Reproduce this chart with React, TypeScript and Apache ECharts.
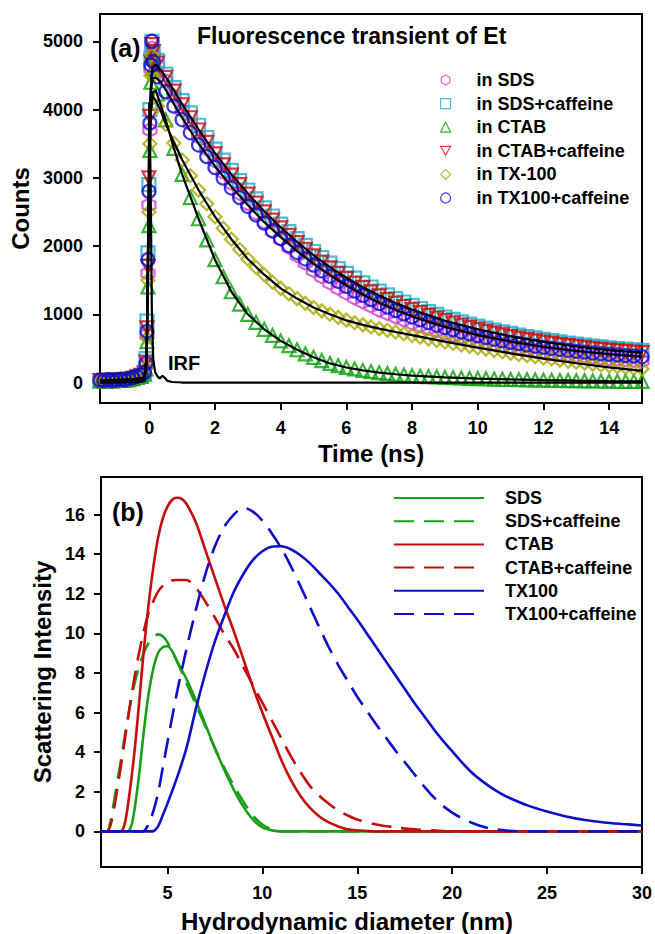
import React, { useEffect, useRef } from "react";
import * as echarts from "echarts";

// ---------- Panel (a): fluorescence transients ----------
const decayTimes = [
  -1.5, -1.375, -1.25, -1.125, -1, -0.875, -0.75, -0.625, -0.5, -0.375, -0.25, -0.15,
  -0.1, -0.07, -0.04, -0.01, 0.02, 0.05, 0.08, 0.12,
  0.25, 0.5, 0.75, 1, 1.25, 1.5, 1.75, 2, 2.25, 2.5, 2.75, 3, 3.25, 3.5, 3.75, 4,
  4.25, 4.5, 4.75, 5, 5.25, 5.5, 5.75, 6, 6.25, 6.5, 6.75, 7, 7.25, 7.5, 7.75, 8,
  8.25, 8.5, 8.75, 9, 9.25, 9.5, 9.75, 10, 10.25, 10.5, 10.75, 11, 11.25, 11.5, 11.75, 12,
  12.25, 12.5, 12.75, 13, 13.25, 13.5, 13.75, 14, 14.25, 14.5, 14.75, 15,
];

const countsSDS = [
  25, 30, 20, 35, 30, 40, 35, 50, 65, 85, 100, 140,
  250, 700, 1600, 2600, 3700, 4600, 4900, 4800,
  4650, 4420, 4200, 3990, 3790, 3600, 3420, 3250, 3080, 2920, 2770, 2620, 2480, 2350, 2220, 2100,
  1980, 1860, 1750, 1640, 1550, 1460, 1380, 1310, 1240, 1180, 1120, 1060, 1010, 960, 915, 870,
  830, 792, 757, 724, 693, 664, 636, 610, 585, 562, 540, 519, 499, 480, 463, 447,
  432, 418, 404, 392, 380, 369, 359, 349, 340, 332, 324, 317,
];
const countsSDSCaf = [
  30, 20, 35, 25, 40, 30, 45, 40, 60, 90, 95, 150,
  350, 900, 1900, 2900, 4000, 4750, 5000, 4850,
  4720, 4520, 4320, 4130, 3950, 3770, 3590, 3420, 3260, 3110, 2960, 2820, 2690, 2560, 2440, 2320,
  2210, 2110, 2010, 1920, 1830, 1750, 1670, 1600, 1530, 1460, 1400, 1340, 1285, 1230, 1180, 1130,
  1085, 1040, 1000, 960, 925, 890, 857, 826, 797, 770, 744, 719, 696, 674, 653, 633,
  614, 596, 579, 563, 548, 534, 521, 509, 498, 488, 479, 470,
];
const countsCTAB = [
  20, 25, 30, 20, 30, 35, 30, 45, 55, 75, 90, 120,
  200, 600, 1400, 2300, 3400, 4400, 4800, 4600,
  4230, 3850, 3430, 3050, 2710, 2400, 2090, 1800, 1550, 1330, 1150, 1000, 880, 780, 690, 610,
  540, 480, 420, 370, 322, 280, 248, 220, 198, 178, 160, 145, 133, 121, 110, 100,
  93, 87, 81, 75, 71, 66, 62, 58, 55, 51, 48, 45, 43, 40, 38, 35,
  33, 31, 29, 27, 25, 23, 22, 20, 19, 18, 17, 16,
];
const countsCTABCaf = [
  30, 35, 25, 30, 35, 40, 40, 50, 60, 80, 105, 135,
  300, 800, 1700, 3000, 3900, 4700, 4950, 4850,
  4680, 4470, 4270, 4070, 3880, 3700, 3520, 3350, 3190, 3040, 2900, 2760, 2630, 2500, 2380, 2265,
  2155, 2050, 1950, 1855, 1765, 1680, 1600, 1525, 1455, 1390, 1328, 1270, 1215, 1163, 1114, 1068,
  1024, 983, 944, 907, 872, 839, 808, 778, 750, 723, 698, 674, 651, 630, 610, 591,
  573, 556, 540, 525, 511, 498, 486, 475, 465, 455, 446, 438,
];
const countsTX100 = [
  20, 30, 25, 30, 25, 35, 40, 40, 55, 80, 90, 125,
  220, 650, 1500, 2500, 3500, 4500, 4800, 4500,
  4050, 3780, 3510, 3260, 3030, 2820, 2620, 2430, 2260, 2100, 1950, 1810, 1690, 1580, 1470, 1380,
  1300, 1230, 1160, 1100, 1050, 1000, 955, 915, 875, 845, 815, 790, 765, 740, 715, 690,
  665, 640, 617, 595, 573, 551, 530, 510, 490, 470, 450, 430, 412, 394, 377, 360,
  344, 328, 313, 298, 284, 270, 257, 245, 233, 221, 210, 200,
];
const countsTX100Caf = [
  35, 30, 40, 30, 35, 45, 40, 55, 70, 90, 110, 145,
  280, 750, 1800, 2800, 3800, 4650, 5000, 4700,
  4480, 4260, 4050, 3850, 3660, 3480, 3310, 3150, 2995, 2850, 2710, 2580, 2455, 2335, 2220, 2110,
  2005, 1905, 1810, 1720, 1635, 1555, 1480, 1408, 1340, 1276, 1215, 1158, 1104, 1053, 1005, 960,
  918, 878, 840, 805, 772, 741, 712, 684, 658, 634, 611, 589, 569, 550, 532, 515,
  499, 484, 470, 457, 445, 433, 422, 412, 403, 394, 386, 378,
];

const fitTimes = [
  -1.5, -0.5, -0.15, -0.08, -0.02, 0.04, 0.1, 0.2, 0.35, 0.5, 0.75, 1, 1.5, 2, 2.5, 3, 3.5,
  4, 4.5, 5, 5.5, 6, 6.5, 7, 7.5, 8, 9, 10, 11, 12, 13, 14, 15,
];
const fitUpper = [
  30, 45, 70, 400, 2600, 4300, 4620, 4660, 4580, 4480, 4280, 4080, 3710, 3360, 3050, 2770, 2510,
  2275, 2060, 1865, 1690, 1535, 1395, 1275, 1165, 1070, 905, 780, 677, 595, 528, 476, 438,
];
const fitLower = [
  30, 45, 70, 380, 2500, 4200, 4460, 4470, 4400, 4290, 4080, 3880, 3500, 3170, 2870, 2600, 2350,
  2130, 1925, 1740, 1575, 1425, 1290, 1170, 1065, 970, 815, 695, 600, 522, 462, 415, 380,
];
const fitTX100 = [
  30, 45, 70, 330, 2200, 3950, 4200, 4130, 3980, 3790, 3520, 3265, 2820, 2430, 2100, 1810, 1580,
  1380, 1230, 1100, 1000, 910, 845, 790, 740, 695, 600, 510, 428, 350, 282, 222, 172,
];
const fitCTAB = [
  25, 40, 60, 320, 2150, 3900, 4250, 4280, 4060, 3850, 3430, 3050, 2400, 1800, 1330, 1000, 780,
  610, 480, 370, 280, 220, 178, 145, 121, 100, 75, 58, 45, 35, 27, 20, 16,
];
const irfTimes = [-1.5, -0.4, -0.15, -0.08, -0.04, 0, 0.04, 0.08, 0.12, 0.18, 0.25, 0.32, 0.4, 0.47, 0.55, 0.7, 1.0, 15];
const irfCounts = [0, 5, 20, 300, 2000, 4100, 3000, 1000, 350, 150, 90, 60, 100, 70, 25, 8, 0, 0];

const timeTicks = [0, 2, 4, 6, 8, 10, 12, 14];
const countTicks = [0, 1000, 2000, 3000, 4000, 5000];

// ---------- Panel (b): DLS size distributions ----------
const sdsD = [1.5, 2.9, 3.1, 3.25, 3.5, 3.75, 4.0, 4.25, 4.5, 4.75, 5.0, 5.25, 5.5, 6.0, 6.5, 7.0, 7.5, 8.0, 8.5, 9.0, 9.5, 10, 10.5, 11, 30];
const sdsI = [0, 0, 0.3, 1.0, 2.8, 5.0, 6.9, 8.2, 9.0, 9.3, 9.35, 9.1, 8.6, 7.7, 6.6, 5.4, 4.2, 3.1, 2.1, 1.25, 0.6, 0.2, 0.05, 0, 0];

const sdsCafD = [1.5, 1.8, 2.0, 2.25, 2.5, 2.75, 3.0, 3.25, 3.5, 3.75, 4.0, 4.25, 4.5, 4.75, 5.0, 5.5, 6.0, 6.5, 7.0, 7.5, 8.0, 8.5, 9.0, 9.5, 10, 10.5, 11, 30];
const sdsCafI = [0, 0, 0.5, 1.9, 3.3, 4.8, 6.2, 7.4, 8.3, 9.0, 9.5, 9.8, 9.95, 9.85, 9.55, 8.6, 7.5, 6.4, 5.3, 4.2, 3.2, 2.3, 1.5, 0.8, 0.35, 0.1, 0, 0];

const ctabD = [1.5, 2.5, 2.65, 2.8, 3.0, 3.25, 3.5, 3.75, 4.0, 4.25, 4.5, 4.75, 5.0, 5.25, 5.5, 5.75, 6.0, 6.5, 7.0, 7.5, 8.0, 8.5, 9.0, 9.5, 10, 10.5, 11, 11.5, 12, 12.5, 13, 13.5, 14, 14.5, 15, 16, 30];
const ctabI = [0, 0, 0.1, 0.6, 1.9, 3.9, 6.4, 9.1, 11.4, 13.3, 14.8, 15.8, 16.4, 16.75, 16.85, 16.8, 16.55, 15.6, 14.2, 12.8, 11.4, 10.1, 8.7, 7.3, 6.0, 4.8, 3.6, 2.6, 1.8, 1.2, 0.75, 0.45, 0.25, 0.1, 0.05, 0, 0];

const ctabCafD = [1.5, 1.8, 2.0, 2.25, 2.5, 2.75, 3.0, 3.25, 3.5, 3.75, 4.0, 4.5, 5.0, 5.5, 6.0, 6.5, 7.0, 7.5, 8.0, 8.5, 9.0, 9.5, 10, 10.5, 11, 11.5, 12, 12.5, 13, 13.5, 14, 14.5, 15, 16, 17, 18, 19, 20, 30];
const ctabCafI = [0, 0, 0.3, 1.5, 3.0, 4.6, 6.2, 7.7, 9.0, 10.1, 11.0, 12.1, 12.6, 12.7, 12.7, 12.3, 11.6, 10.8, 9.95, 9.2, 8.3, 7.4, 6.5, 5.6, 4.7, 3.8, 3.0, 2.3, 1.8, 1.4, 1.05, 0.8, 0.6, 0.35, 0.2, 0.1, 0.05, 0, 0];

const tx100D = [1.5, 4.2, 4.5, 4.75, 5.0, 5.5, 6.0, 6.5, 7.0, 7.5, 8.0, 8.5, 9.0, 9.5, 10, 10.5, 11, 11.5, 12, 12.5, 13, 13.5, 14, 14.5, 15, 15.5, 16, 16.5, 17, 17.5, 18, 18.5, 19, 19.5, 20, 20.5, 21, 21.5, 22, 22.5, 23, 24, 25, 26, 27, 28, 29, 30];
const tx100I = [0, 0, 0.25, 0.8, 1.4, 2.7, 4.2, 6.2, 8.0, 9.6, 10.9, 12.1, 13.0, 13.7, 14.15, 14.38, 14.4, 14.25, 13.95, 13.55, 13.05, 12.55, 12.0, 11.35, 10.7, 10.0, 9.3, 8.6, 7.9, 7.2, 6.5, 5.85, 5.2, 4.6, 4.05, 3.5, 3.0, 2.6, 2.25, 1.95, 1.7, 1.3, 1.0, 0.75, 0.57, 0.45, 0.37, 0.3];

const tx100CafD = [1.5, 3.7, 4.0, 4.25, 4.5, 4.75, 5.0, 5.5, 6.0, 6.5, 7.0, 7.5, 8.0, 8.5, 9.0, 9.5, 10, 10.5, 11, 11.5, 12, 12.5, 13, 13.5, 14, 14.5, 15, 15.5, 16, 16.5, 17, 17.5, 18, 18.5, 19, 19.5, 20, 20.5, 21, 21.5, 22, 23, 24, 30];
const tx100CafI = [0, 0, 0.35, 1.0, 1.9, 3.2, 4.5, 7.0, 9.2, 11.2, 13.0, 14.4, 15.4, 16.0, 16.35, 16.15, 15.7, 15.05, 14.3, 13.4, 12.4, 11.35, 10.3, 9.3, 8.4, 7.6, 6.8, 6.1, 5.4, 4.75, 4.1, 3.5, 2.9, 2.3, 1.75, 1.3, 0.95, 0.67, 0.45, 0.27, 0.15, 0.03, 0, 0];

const diamTicks = [5, 10, 15, 20, 25, 30];
const intensityTicks = [0, 2, 4, 6, 8, 10, 12, 14, 16];

// ---------- styling ----------
const FONT = '"Liberation Sans", Arial, Helvetica, sans-serif';
const HEX = "path://M0,-10L8.66,-5L8.66,5L0,10L-8.66,5L-8.66,-5Z";
const DOWN_TRI = "path://M-10,-8.66L10,-8.66L0,8.66Z";

const zip = (xs: number[], ys: number[]) => xs.map((x, i) => [x, ys[i]]);

const labelStyle = { fontFamily: FONT, fontWeight: "bold" as const, fontSize: 18, color: "#000" };
const nameStyle = { fontFamily: FONT, fontWeight: "bold" as const, fontSize: 24, color: "#000" };
const axisLine = { onZero: false, lineStyle: { color: "#000", width: 2 } };
const tick = (vals: number[]) => ({ show: true, inside: false, length: 7, lineStyle: { color: "#000", width: 2 }, customValues: vals });
const plain = (v: number) => String(v);

function scatter(name: string, ys: number[], symbol: string, color: string) {
  return {
    type: "scatter",
    name,
    xAxisIndex: 0,
    yAxisIndex: 0,
    data: zip(decayTimes, ys),
    symbol,
    symbolSize: 13,
    itemStyle: { color: "rgba(255,255,255,0)", borderColor: color, borderWidth: 2.2 },
    emphasis: { disabled: true },
    silent: true,
  };
}
function fitLine(xs: number[], ys: number[], name: string) {
  return {
    type: "line",
    name,
    xAxisIndex: 0,
    yAxisIndex: 0,
    data: zip(xs, ys),
    symbol: "none",
    showSymbol: false,
    lineStyle: { color: "#000", width: 2.2 },
    itemStyle: { color: "#000" },
    silent: true,
    z: 5,
  };
}
function dlsLine(name: string, xs: number[], ys: number[], color: string, dashed: boolean) {
  return {
    type: "line",
    name,
    xAxisIndex: 1,
    yAxisIndex: 1,
    data: zip(xs, ys),
    symbol: "none",
    showSymbol: false,
    smooth: 0.3,
    lineStyle: { color, width: 2.6, type: dashed ? [20, 10] : "solid" },
    itemStyle: { color },
    silent: true,
  };
}

export default function App() {
  const ref = useRef<HTMLDivElement>(null);
  useEffect(() => {
    if (!ref.current) return;
    const chart = echarts.init(ref.current, undefined, { renderer: "svg" });
    const option: any = {
      animation: false,
      backgroundColor: "#fff",
      grid: [
        { left: 100, top: 14, width: 542, height: 389, show: true, borderColor: "#000", borderWidth: 2, backgroundColor: "transparent" },
        { left: 101, top: 477, width: 542, height: 390, show: true, borderColor: "#000", borderWidth: 2, backgroundColor: "transparent" },
      ],
      xAxis: [
        {
          gridIndex: 0, type: "value", min: -1.5, max: 15,
          name: "Time (ns)", nameLocation: "middle", nameGap: 38, nameTextStyle: nameStyle,
          axisLine, axisTick: tick(timeTicks),
          axisLabel: { ...labelStyle, margin: 16, customValues: timeTicks, formatter: plain },
          splitLine: { show: false },
        },
        {
          gridIndex: 1, type: "value", min: 1.5, max: 30,
          name: "Hydrodynamic diameter (nm)", nameLocation: "middle", nameGap: 42,
          nameTextStyle: { ...nameStyle, padding: [0, 49, 0, 0] },
          axisLine, axisTick: tick(diamTicks),
          axisLabel: { ...labelStyle, margin: 17, customValues: diamTicks, formatter: plain },
          splitLine: { show: false },
        },
      ],
      yAxis: [
        {
          gridIndex: 0, type: "value", min: -300, max: 5400,
          name: "Counts", nameLocation: "middle", nameGap: 55, nameTextStyle: nameStyle,
          axisLine, axisTick: tick(countTicks),
          axisLabel: { ...labelStyle, margin: 17, customValues: countTicks, formatter: plain },
          splitLine: { show: false },
        },
        {
          gridIndex: 1, type: "value", min: -1.8, max: 17.9,
          name: "Scattering Intensity", nameLocation: "middle", nameGap: 40, nameTextStyle: nameStyle,
          axisLine, axisTick: tick(intensityTicks),
          axisLabel: { ...labelStyle, margin: 16, customValues: intensityTicks, formatter: plain },
          splitLine: { show: false },
        },
      ],
      legend: [
        {
          data: ["in SDS", "in SDS+caffeine", "in CTAB", "in CTAB+caffeine", "in TX-100", "in TX100+caffeine"],
          orient: "vertical", left: 440, top: 71, padding: 0,
          itemWidth: 10, itemHeight: 10, itemGap: 5.6, selectedMode: false,
          itemStyle: { borderWidth: 1.2 },
          textStyle: { ...labelStyle, lineHeight: 18, padding: [0, 0, 0, 21] },
        },
        {
          data: ["SDS", "SDS+caffeine", "CTAB", "CTAB+caffeine", "TX100", "TX100+caffeine"],
          orient: "vertical", left: 393, top: 489, padding: 0,
          itemWidth: 90, itemHeight: 14, itemGap: 5.2, selectedMode: false,
          itemStyle: { color: "rgba(0,0,0,0)", borderWidth: 0, opacity: 0 },
          lineStyle: { opacity: 1 },
          textStyle: { ...labelStyle, lineHeight: 18, padding: [0, 0, 0, 16] },
        },
      ],
      graphic: [
        { type: "text", x: 110, y: 48, style: { text: "(a)", font: `bold 25px ${FONT}`, fill: "#000", verticalAlign: "middle" } },
        { type: "text", x: 197, y: 36, style: { text: "Fluorescence transient of Et", font: `bold 23px ${FONT}`, fill: "#000", verticalAlign: "middle" } },
        { type: "text", x: 168, y: 363, style: { text: "IRF", font: `bold 20px ${FONT}`, fill: "#000", verticalAlign: "middle" } },
        { type: "text", x: 112, y: 512, style: { text: "(b)", font: `bold 25px ${FONT}`, fill: "#000", verticalAlign: "middle" } },
      ],
      series: [
        scatter("in SDS", countsSDS, HEX, "#d03cd0"),
        scatter("in SDS+caffeine", countsSDSCaf, "rect", "#1faccc"),
        scatter("in CTAB", countsCTAB, "triangle", "#0aa00a"),
        scatter("in CTAB+caffeine", countsCTABCaf, DOWN_TRI, "#cc0a0a"),
        scatter("in TX-100", countsTX100, "diamond", "#a6a600"),
        scatter("in TX100+caffeine", countsTX100Caf, "circle", "#0a0ad2"),
        fitLine(fitTimes, fitCTAB, "fit CTAB"),
        fitLine(fitTimes, fitTX100, "fit TX-100"),
        fitLine(fitTimes, fitLower, "fit TX100+caffeine"),
        fitLine(fitTimes, fitUpper, "fit CTAB+caffeine"),
        fitLine(irfTimes, irfCounts, "IRF"),
        dlsLine("SDS", sdsD, sdsI, "#1a9e1a", false),
        dlsLine("SDS+caffeine", sdsCafD, sdsCafI, "#1a9e1a", true),
        dlsLine("CTAB", ctabD, ctabI, "#c40f0f", false),
        dlsLine("CTAB+caffeine", ctabCafD, ctabCafI, "#c40f0f", true),
        dlsLine("TX100", tx100D, tx100I, "#0f0fc8", false),
        dlsLine("TX100+caffeine", tx100CafD, tx100CafI, "#0f0fc8", true),
      ],
    };
    chart.setOption(option);
    return () => chart.dispose();
  }, []);
  return <div ref={ref} style={{ position: "absolute", left: 0, top: 0, width: 655, height: 934 }} />;
}
